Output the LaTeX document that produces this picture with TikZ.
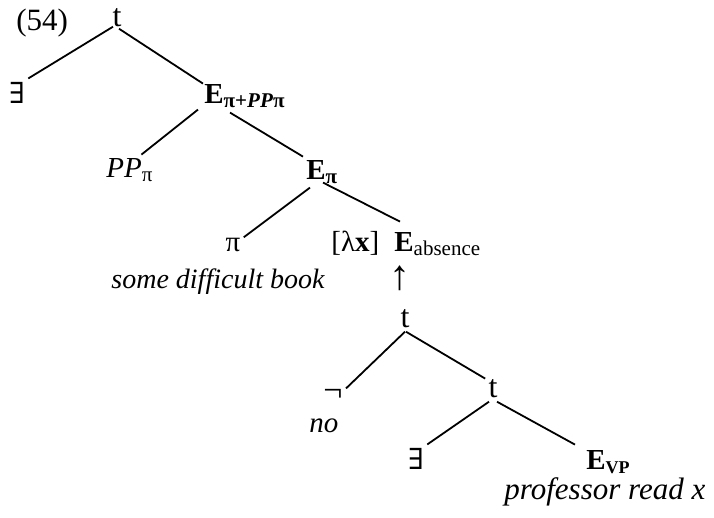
\documentclass[tikz,border=0pt]{standalone}
\usepackage{fontspec}
\setmainfont{Liberation Serif}
\newfontfamily\symfont{DejaVu Serif}
\newcommand\mysub[1]{\raisebox{-0.3ex}{\fontsize{10.5}{12}\selectfont #1}}
\newcommand\myex{{\symfont\fontsize{14.5}{16}\selectfont ∃}}
\begin{document}
\begin{tikzpicture}[x=0.5pt,y=-0.5pt,
  lab/.style={inner sep=0.5pt, font=\fontsize{14.5}{17}\selectfont},
  edge/.style={line width=0.9pt}]
\useasboundingbox (0,0) rectangle (714,518);
% labels
\node[lab, anchor=base west, font=\fontsize{15.5}{17}\selectfont] (n54) at (15,31) {(54)};
\node[lab, anchor=base, font=\fontsize{16}{17}\selectfont] (t1) at (117,27) {t};
\node[lab, anchor=base] (ex1) at (17,104) {\myex};
\node[lab, anchor=base west] (E1) at (203,104) {\textbf{E}\mysub{\textbf{π+\textit{PP}π}}};
\node[lab, anchor=base west] (pp) at (105,178) {\textit{PP}\mysub{π}};
\node[lab, anchor=base west] (E2) at (305,180) {\textbf{E}\mysub{\textbf{π}}};
\node[lab, anchor=base] (pi) at (233,252) {π};
\node[lab, anchor=base west] (lam) at (330,252) {[λ\textbf{x}]};
\node[lab, anchor=base west] (E3) at (393,252) {\textbf{E}\mysub{absence}};
\node[lab, anchor=base west, font=\fontsize{14}{17}\selectfont] (sdb) at (110,289) {\textit{some difficult book}};
\node[lab, anchor=base, font=\fontsize{21}{22}\selectfont] (arr) at (400,290) {↑};
\node[lab, anchor=base, font=\fontsize{16}{17}\selectfont] (t2) at (405,328) {t};
\node[lab, anchor=base, font=\fontsize{17}{18}\selectfont] (neg) at (333,402) {¬};
\node[lab, anchor=base west] (no) at (308,433) {\textit{no}};
\node[lab, anchor=base, font=\fontsize{16}{17}\selectfont] (t3) at (493,398) {t};
\node[lab, anchor=base] (ex2) at (416,470) {\myex};
\node[lab, anchor=base west] (E4) at (585,470) {\textbf{E}\mysub{\textbf{\fontsize{9}{10}\selectfont VP}}};
\node[lab, anchor=base west, font=\fontsize{15.5}{17}\selectfont] (prx) at (503,500) {\textit{professor read x}};
% edges
\draw[edge] ([shift={(-4,-2)}]t1.south) -- ([shift={(2,-3)}]ex1.north east);
\draw[edge] ([shift={(2,0)}]t1.south) -- (E1.north west);
\draw[edge] ([shift={(-5,0)}]E1.south west) -- ([shift={(12,-3)}]pp.north);
\draw[edge] ([shift={(27,3)}]E1.south west) -- ([shift={(-2,-3)}]E2.north west);
\draw[edge] ([shift={(5,2)}]E2.south west) -- ([shift={(2,0)}]pi.north east);
\draw[edge] ([shift={(18,-3)}]E2.south west) -- ([shift={(7,-10)}]E3.north west);
\draw[edge] ([shift={(0,2)}]t2.south) -- ([shift={(2,0)}]neg.north east);
\draw[edge] ([shift={(1,2)}]t2.south) -- ([shift={(-2,0)}]t3.north west);
\draw[edge] ([shift={(-4,2)}]t3.south) -- ([shift={(2,-3)}]ex2.north east);
\draw[edge] ([shift={(4,2)}]t3.south) -- ([shift={(-10,-5)}]E4.north west);
\end{tikzpicture}
\end{document}
